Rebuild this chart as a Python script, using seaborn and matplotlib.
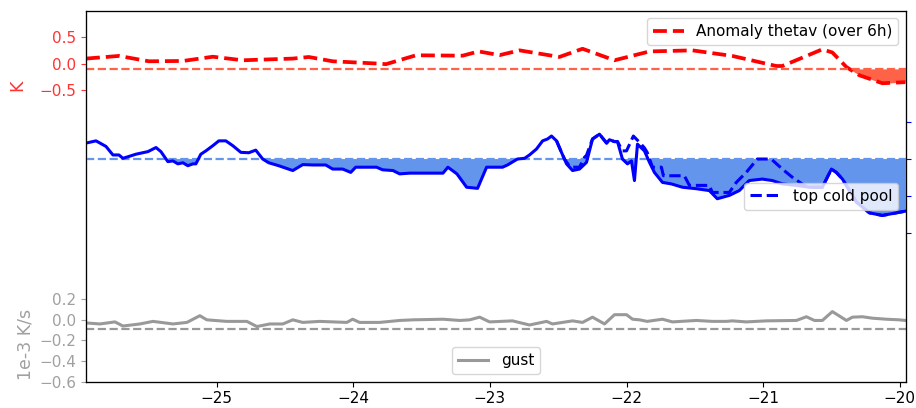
import numpy as np
import pandas as pd
import seaborn as sns
import matplotlib.pyplot as plt

plt.rcParams['font.size'] = 11

# time in hours
thetav_t = [-25.955, -25.714, -25.495, -25.246, -25.027, -24.808, -24.442, -24.325, -24.150,
            -23.814, -23.760, -23.541, -23.199, -23.082, -22.929, -22.783, -22.491, -22.322,
            -22.088, -21.832, -21.518, -21.226, -20.904, -20.860, -20.567, -20.494, -20.391,
            -20.296, -20.128, -19.960]
thetav_anom = [0.095, 0.145, 0.044, 0.05, 0.13, 0.063, 0.095, 0.125, 0.044,
               0.0, -0.01, 0.157, 0.15, 0.23, 0.16, 0.25, 0.126, 0.28,
               0.063, 0.23, 0.25, 0.145, -0.045, -0.045, 0.27, 0.21, -0.065,
               -0.22, -0.37, -0.35]

cp_t = [-25.955, -25.882, -25.809, -25.758, -25.714, -25.685, -25.641, -25.590, -25.502, -25.443,
        -25.407, -25.356, -25.319, -25.283, -25.246, -25.210, -25.173, -25.151, -25.115, -25.078,
        -25.027, -24.983, -24.932, -24.881, -24.822, -24.764, -24.713, -24.662, -24.618, -24.545,
        -24.442, -24.369, -24.296, -24.201, -24.150, -24.077, -24.018, -23.982, -23.909, -23.829,
        -23.785, -23.709, -23.660, -23.587, -23.343, -23.307, -23.241, -23.170, -23.090, -23.024,
        -22.907, -22.871, -22.798, -22.746, -22.710, -22.659, -22.614, -22.578, -22.549, -22.512,
        -22.476, -22.439, -22.395, -22.344, -22.293, -22.249, -22.198, -22.146, -22.125, -22.088,
        -22.066, -22.030, -21.993, -21.964, -21.942, -21.920, -21.869, -21.832, -21.796, -21.737,
        -21.672, -21.591, -21.489, -21.394, -21.336, -21.248, -21.175, -21.102, -21.007, -20.933,
        -20.860, -20.757, -20.662, -20.567, -20.501, -20.465, -20.420, -20.318, -20.223, -20.128,
        -20.026, -19.953]
cp_val = [0.43, 0.49, 0.34, 0.11, 0.11, 0.02, 0.07, 0.13, 0.20, 0.31,
          0.20, -0.07, -0.05, -0.13, -0.10, -0.18, -0.13, -0.13, 0.13, 0.22,
          0.36, 0.49, 0.49, 0.36, 0.18, 0.17, 0.24, 0.0, -0.10, -0.18,
          -0.31, -0.15, -0.16, -0.16, -0.27, -0.27, -0.36, -0.22, -0.22, -0.22,
          -0.29, -0.31, -0.40, -0.38, -0.38, -0.22, -0.40, -0.76, -0.79, -0.22,
          -0.22, -0.16, 0.0, 0.02, 0.11, 0.27, 0.49, 0.54, 0.62, 0.49,
          0.18, -0.13, -0.31, -0.27, -0.09, 0.54, 0.67, 0.43, 0.52, 0.47,
          0.47, 0.0, -0.13, -0.05, -0.58, 0.40, 0.22, -0.09, -0.36, -0.63,
          -0.67, -0.76, -0.80, -0.85, -1.07, -0.98, -0.85, -0.58, -0.54, -0.58,
          -0.67, -0.71, -0.76, -0.76, -0.27, -0.36, -0.54, -1.16, -1.45, -1.52,
          -1.45, -1.40]

top_t = [-22.512, -22.476, -22.454, -22.420, -22.395, -22.344, -22.307, -22.293, -22.249, -22.198,
         -22.146, -22.125, -22.088, -22.066, -22.030, -22.000, -21.950, -21.905, -21.869, -21.849,
         -21.810, -21.745, -21.730, -21.577, -21.540, -21.394, -21.373, -21.248, -21.197, -21.124,
         -21.043, -20.941, -20.860, -20.787, -20.700, -20.662, -20.567, -20.501, -20.465, -20.420,
         -20.318, -20.223, -20.128, -20.026, -19.953]
top_val = [0.49, 0.18, 0.0, -0.18, -0.22, -0.22, 0.05, 0.10, 0.54, 0.67,
           0.43, 0.52, 0.47, 0.47, 0.22, 0.22, 0.62, 0.45, 0.30, 0.18,
           -0.22, -0.22, -0.45, -0.45, -0.71, -0.71, -0.90, -0.90, -0.63, -0.36,
           0.0, 0.0, -0.27, -0.49, -0.71, -0.76, -0.76, -0.27, -0.36, -0.54,
           -1.16, -1.45, -1.52, -1.45, -1.40]

gust_t = [-25.955, -25.853, -25.743, -25.685, -25.561, -25.465, -25.319, -25.217, -25.122, -25.071,
          -24.925, -24.778, -24.705, -24.610, -24.515, -24.442, -24.369, -24.245, -24.047, -24.004,
          -23.953, -23.807, -23.660, -23.563, -23.343, -23.221, -23.148, -23.075, -23.002, -22.834,
          -22.710, -22.585, -22.542, -22.395, -22.322, -22.249, -22.161, -22.088, -22.000, -21.956,
          -21.905, -21.849, -21.737, -21.664, -21.489, -21.373, -21.270, -21.226, -21.124, -20.977,
          -20.757, -20.684, -20.625, -20.567, -20.494, -20.391, -20.347, -20.274, -20.201, -20.099,
          -20.004, -19.960]
gust_val = [-0.03, -0.04, -0.02, -0.06, -0.04, -0.015, -0.04, -0.025, 0.04, 0.0,
            -0.015, -0.015, -0.065, -0.04, -0.04, 0.0, -0.025, -0.015, -0.025, 0.006,
            -0.025, -0.025, -0.006, 0.0, 0.006, -0.006, 0.0, 0.026, -0.02, -0.01,
            -0.05, -0.015, -0.04, -0.01, -0.025, 0.026, -0.04, 0.05, 0.05, 0.006,
            0.0, -0.015, 0.006, -0.02, -0.006, -0.015, -0.015, -0.01, -0.02, -0.01,
            -0.006, 0.03, -0.006, -0.006, 0.08, -0.006, 0.026, 0.03, 0.016, 0.006,
            0.0, -0.006]

thetav_ref = -0.1
cp_ref = 0.0
gust_ref = -0.09

red_df = pd.DataFrame({'t': thetav_t, 'v': thetav_anom})
cp_df = pd.DataFrame({'t': cp_t, 'v': cp_val})
top_df = pd.DataFrame({'t': top_t, 'v': top_val})
gust_df = pd.DataFrame({'t': gust_t, 'v': gust_val})

fig = plt.figure(figsize=(9.16, 4.08), dpi=100)
ax = fig.add_axes([0.0939, 0.0645, 0.8952, 0.9095])

# gust (bottom band)
sns.lineplot(data=gust_df, x='t', y='v', ax=ax, color='gray', alpha=0.8, lw=2.2, label='gust')
ax.axhline(gust_ref, color='gray', alpha=0.8, ls='--', lw=1.6)
ax.set_ylim(-0.6, 3.0)
ax.set_yticks([-0.6, -0.4, -0.2, 0.0, 0.2])
ax.tick_params(axis='y', colors='#a0a0a0')
ax.set_ylabel('1e-3 K/s', color='#a0a0a0', fontsize=12.5)
ax.yaxis.set_label_coords(-0.063, 0.10)
ax.set_xlabel('')
ax.set_xlim(-25.955, -19.955)
ax.legend(loc='lower center')

# thetav anomaly (top band)
ax_r = ax.twinx()
ax_r.yaxis.tick_left()
ax_r.yaxis.set_label_position('left')
sns.lineplot(data=red_df, x='t', y='v', ax=ax_r, color='red', lw=2.7, ls='--',
             label='Anomaly thetav (over 6h)')
ax_r.axhline(thetav_ref, color='tomato', ls='--', lw=1.6)
rv = np.array(thetav_anom)
ax_r.fill_between(thetav_t, rv, thetav_ref, where=rv < thetav_ref, interpolate=True,
                  color='tomato', lw=0)
ax_r.set_ylim(-6, 1)
ax_r.set_yticks([-0.5, 0.0, 0.5])
ax_r.tick_params(axis='y', colors='#ff3333')
ax_r.set_ylabel('K', color='#ff3333', fontsize=12.5)
ax_r.yaxis.set_label_coords(-0.073, 0.80)
ax_r.set_xlim(-25.955, -19.955)
ax_r.legend(loc='upper right')

# cold pool (middle band)
ax_b = ax.twinx()
cv = np.array(cp_val)
ax_b.fill_between(cp_t, cv, cp_ref, where=cv < cp_ref, interpolate=True,
                  color='cornflowerblue', lw=0)
ax_b.axhline(cp_ref, color='cornflowerblue', ls='--', lw=1.6)
sns.lineplot(data=top_df, x='t', y='v', ax=ax_b, color='blue', lw=2.2, ls='--', label='top cold pool')
sns.lineplot(data=cp_df, x='t', y='v', ax=ax_b, color='blue', lw=2.2)
ax_b.set_ylim(-6, 4)
ax_b.set_yticks([-2, -1, 0, 1])
ax_b.set_yticklabels([])
ax_b.tick_params(axis='y', colors='blue')
ax_b.set_ylabel('')
ax_b.set_xlim(-25.955, -19.955)
ax_b.legend(loc='center right')

fig.savefig('out.png', dpi=100)
